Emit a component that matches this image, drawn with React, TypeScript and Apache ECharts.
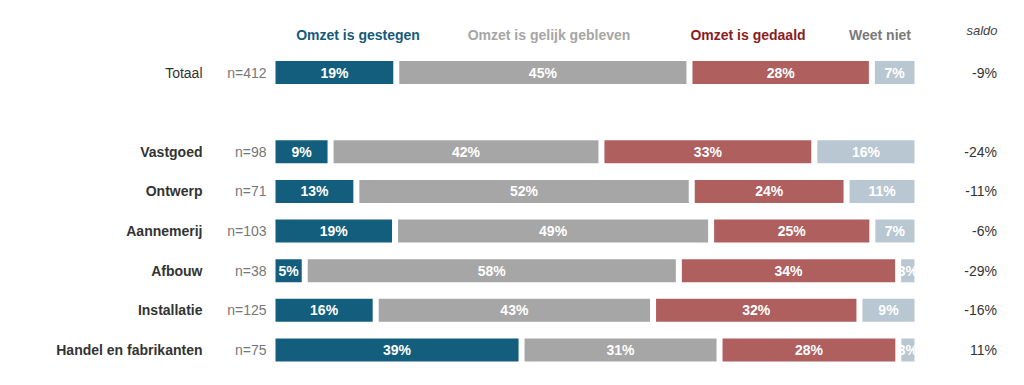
import React, { useEffect, useRef } from "react";
import * as echarts from "echarts";

const categories = ["Totaal", "", "Vastgoed", "Ontwerp", "Aannemerij", "Afbouw", "Installatie", "Handel en fabrikanten"];
const sampleSizes = [412, null, 98, 71, 103, 38, 125, 75];
const seriesNames = ["Omzet is gestegen", "Omzet is gelijk gebleven", "Omzet is gedaald", "Weet niet"];
const gestegen = [19, null, 9, 13, 19, 5, 16, 39];
const gelijk = [45, null, 42, 52, 49, 58, 43, 31];
const gedaald = [28, null, 33, 24, 25, 34, 32, 28];
const weetNiet = [7, null, 16, 11, 7, 3, 9, 3];
const saldo = [-9, null, -24, -11, -6, -29, -16, 11];
const saldoTitle = "saldo";

const barColors = ["#135e7d", "#a6a6a6", "#b05f5f", "#b9c7d2"];
const headerColors = ["#165a7a", "#a6a6a6", "#8c1c1c", "#7a7a7a"];
const headerX = [358, 549, 748, 880];
const FONT = "'Liberation Sans', Arial, Helvetica, sans-serif";

export default function App() {
  const ref = useRef<HTMLDivElement>(null);
  useEffect(() => {
    document.body.style.margin = "0";
    if (!ref.current) return;
    const chart = echarts.init(ref.current, null, { renderer: "svg" });
    const all = [gestegen, gelijk, gedaald, weetNiet];
    const sums = categories.map((_, i) =>
      all.reduce((s, arr) => s + (arr[i] == null ? 0 : (arr[i] as number)), 0)
    );
    const series = all.map((arr, si) => ({
      name: seriesNames[si],
      type: "bar",
      stack: "total",
      barWidth: 29,
      itemStyle: { color: barColors[si], borderColor: "#ffffff", borderWidth: 3 },
      label: {
        show: true,
        position: "inside",
        color: "#ffffff",
        fontWeight: "bold",
        fontSize: 14,
        fontFamily: FONT,
        formatter: (p: any) => (arr[p.dataIndex] == null ? "" : arr[p.dataIndex] + "%"),
      },
      data: arr.map((v, i) => (v == null ? null : (v / sums[i]) * 100)),
    }));
    chart.setOption({
      animation: false,
      textStyle: { fontFamily: FONT },
      grid: { left: 272.5, right: 106.5, top: 52.7, bottom: 15.2, containLabel: false },
      xAxis: { type: "value", min: 0, max: 100, show: false },
      yAxis: [
        {
          type: "category",
          data: categories,
          inverse: true,
          axisLine: { show: false },
          axisTick: { show: false },
          axisLabel: {
            margin: 6,
            formatter: (val: string, idx: number) => {
              if (!val) return "";
              const n = sampleSizes[idx];
              const key = idx === 0 ? "t" : "c";
              return `{${key}|${val}}{n|n=${n}}`;
            },
            rich: {
              t: { width: 200, align: "right", fontSize: 14, color: "#333333", fontFamily: FONT },
              c: { width: 200, align: "right", fontSize: 14, fontWeight: "bold", color: "#333333", fontFamily: FONT },
              n: { width: 64, align: "right", fontSize: 14, color: "#777777", fontFamily: FONT },
            },
          },
        },
        {
          type: "category",
          data: categories,
          inverse: true,
          position: "right",
          axisLine: { show: false },
          axisTick: { show: false },
          axisLabel: {
            margin: 79.5,
            align: "right",
            fontSize: 14,
            color: "#333333",
            fontFamily: FONT,
            formatter: (_: string, idx: number) => (saldo[idx] == null ? "" : saldo[idx] + "%"),
          },
        },
      ],
      graphic: [
        ...seriesNames.map((name, i) => ({
          type: "text",
          x: headerX[i],
          y: 35,
          style: {
            text: name,
            fill: headerColors[i],
            font: `bold 14px ${FONT}`,
            textAlign: "center",
            textVerticalAlign: "middle",
          },
        })),
        {
          type: "text",
          x: 982,
          y: 30,
          style: {
            text: saldoTitle,
            fill: "#444444",
            font: `italic 13px ${FONT}`,
            textAlign: "center",
            textVerticalAlign: "middle",
          },
        },
      ],
      series,
    });
    return () => chart.dispose();
  }, []);
  return <div ref={ref} style={{ width: 1024, height: 385 }} />;
}
